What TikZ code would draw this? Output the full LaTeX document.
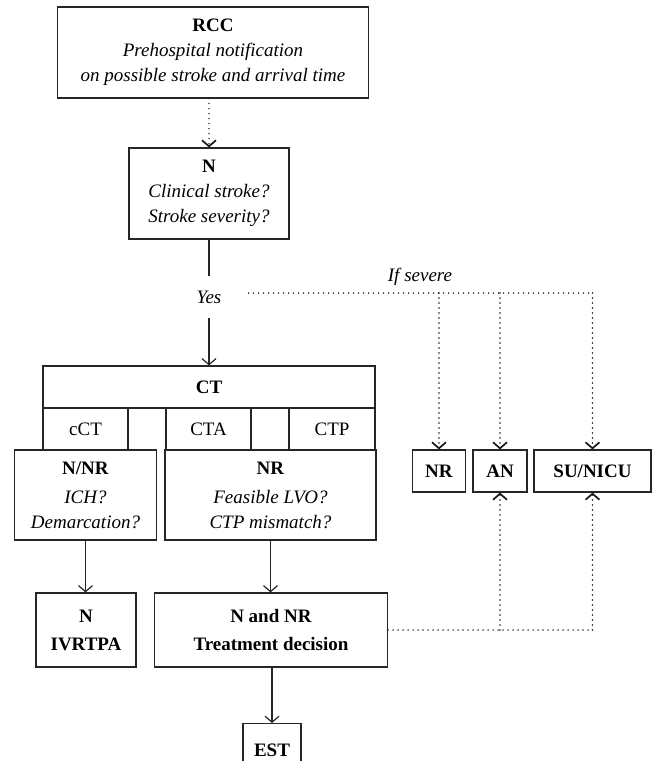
\documentclass[tikz,border=0pt]{standalone}
\usepackage{fontspec}
\setmainfont{Liberation Serif}
\usetikzlibrary{arrows.meta}

\tikzset{
  box/.style={draw=black!85, line width=1.2pt, align=center, inner sep=0pt,
    font=\fontsize{19}{25}\selectfont},
  txt/.style={align=center, inner sep=0pt, font=\fontsize{19}{25}\selectfont},
  dotline/.style={draw=black!90, line width=1.7pt, dash pattern=on 0pt off 5pt, line cap=round},
}

\begin{document}
\begin{tikzpicture}[x=1pt, y=-1pt, line width=1.2pt, draw=black!85,
    >={Straight Barb[length=6pt,width=14pt]}]
    \path[use as bounding box, clip] (0,0) rectangle (652,761);

    % Notification and first check
    \node[box, minimum width=311pt, minimum height=91pt] (rcc) at (213,52.5)
        {\textbf{RCC}\\\textit{Prehospital notification}\\\textit{on possible stroke and arrival time}};
    \node[box, minimum width=160pt, minimum height=91pt] (n) at (209,193.5)
        {\textbf{N}\\\textit{Clinical stroke?}\\\textit{Stroke severity?}};
    \node[txt, minimum width=78pt, minimum height=41pt] (yes) at (209,297) {\textit{Yes}};
    \node[txt] (ifsev) at (420,277) {\textit{If severe}};

    % CT block
    \node[box, minimum width=332pt, minimum height=42pt] (ct) at (209,387) {\textbf{CT}};
    \node[box, minimum width=85pt, minimum height=42pt] (cct) at (85.5,429) {cCT};
    \node[box, minimum width=85pt, minimum height=42pt] (cta) at (208.5,429) {CTA};
    \node[box, minimum width=86pt, minimum height=42pt] (ctp) at (332,429) {CTP};

    % Imaging questions
    \node[box, minimum width=142pt, minimum height=90pt] (nnr) at (85.5,495)
        {\textbf{N/NR}\\[4pt]\textit{ICH?}\\\textit{Demarcation?}};
    \node[box, minimum width=211pt, minimum height=90pt] (nr) at (270.5,495)
        {\textbf{NR}\\[4pt]\textit{Feasible LVO?}\\\textit{CTP mismatch?}};

    % Severe branch targets
    \node[box, minimum width=53pt, minimum height=42pt] (nrr) at (439,471) {\textbf{NR}};
    \node[box, minimum width=54pt, minimum height=42pt] (an) at (500,471) {\textbf{AN}};
    \node[box, minimum width=117pt, minimum height=42pt] (su) at (592.5,471) {\textbf{SU/NICU}};

    % Treatment
    \node[box, minimum width=100pt, minimum height=74pt] (ivr) at (86,630)
        {\textbf{N}\\[3pt]\textbf{IVRTPA}};
    \node[box, minimum width=233pt, minimum height=74pt] (tnd) at (271,630)
        {\textbf{N and NR}\\[3pt]\textbf{Treatment decision}};
    \node[box, minimum width=58pt, minimum height=54pt, anchor=north] (est) at (272,723) {\textbf{EST}};

    % Connectors
    \draw[dotline, ->] (n.north |- rcc.south) -- (n.north);
    \draw (n.south) -- (yes.north);
    \draw[->] (yes.south) -- (ct.north);

    \coordinate (sevcorner) at (592.5,293);
    \draw[dotline] (yes.east |- sevcorner) -- (sevcorner);
    \draw[dotline, ->] (nrr.north |- sevcorner) -- (nrr.north);
    \draw[dotline, ->] (an.north |- sevcorner) -- (an.north);
    \draw[dotline, ->] (sevcorner) -- (su.north);

    \draw[->] (nnr.south) -- (nnr.south |- ivr.north);
    \draw[->] (nr.south) -- (nr.south |- tnd.north);
    \draw[->] (tnd.south -| est.north) -- (est.north);

    \draw[dotline] (tnd.east) -- (tnd.east -| su.south);
    \draw[dotline, ->] (tnd.east -| an.south) -- (an.south);
    \draw[dotline, ->] (tnd.east -| su.south) -- (su.south);
\end{tikzpicture}
\end{document}
